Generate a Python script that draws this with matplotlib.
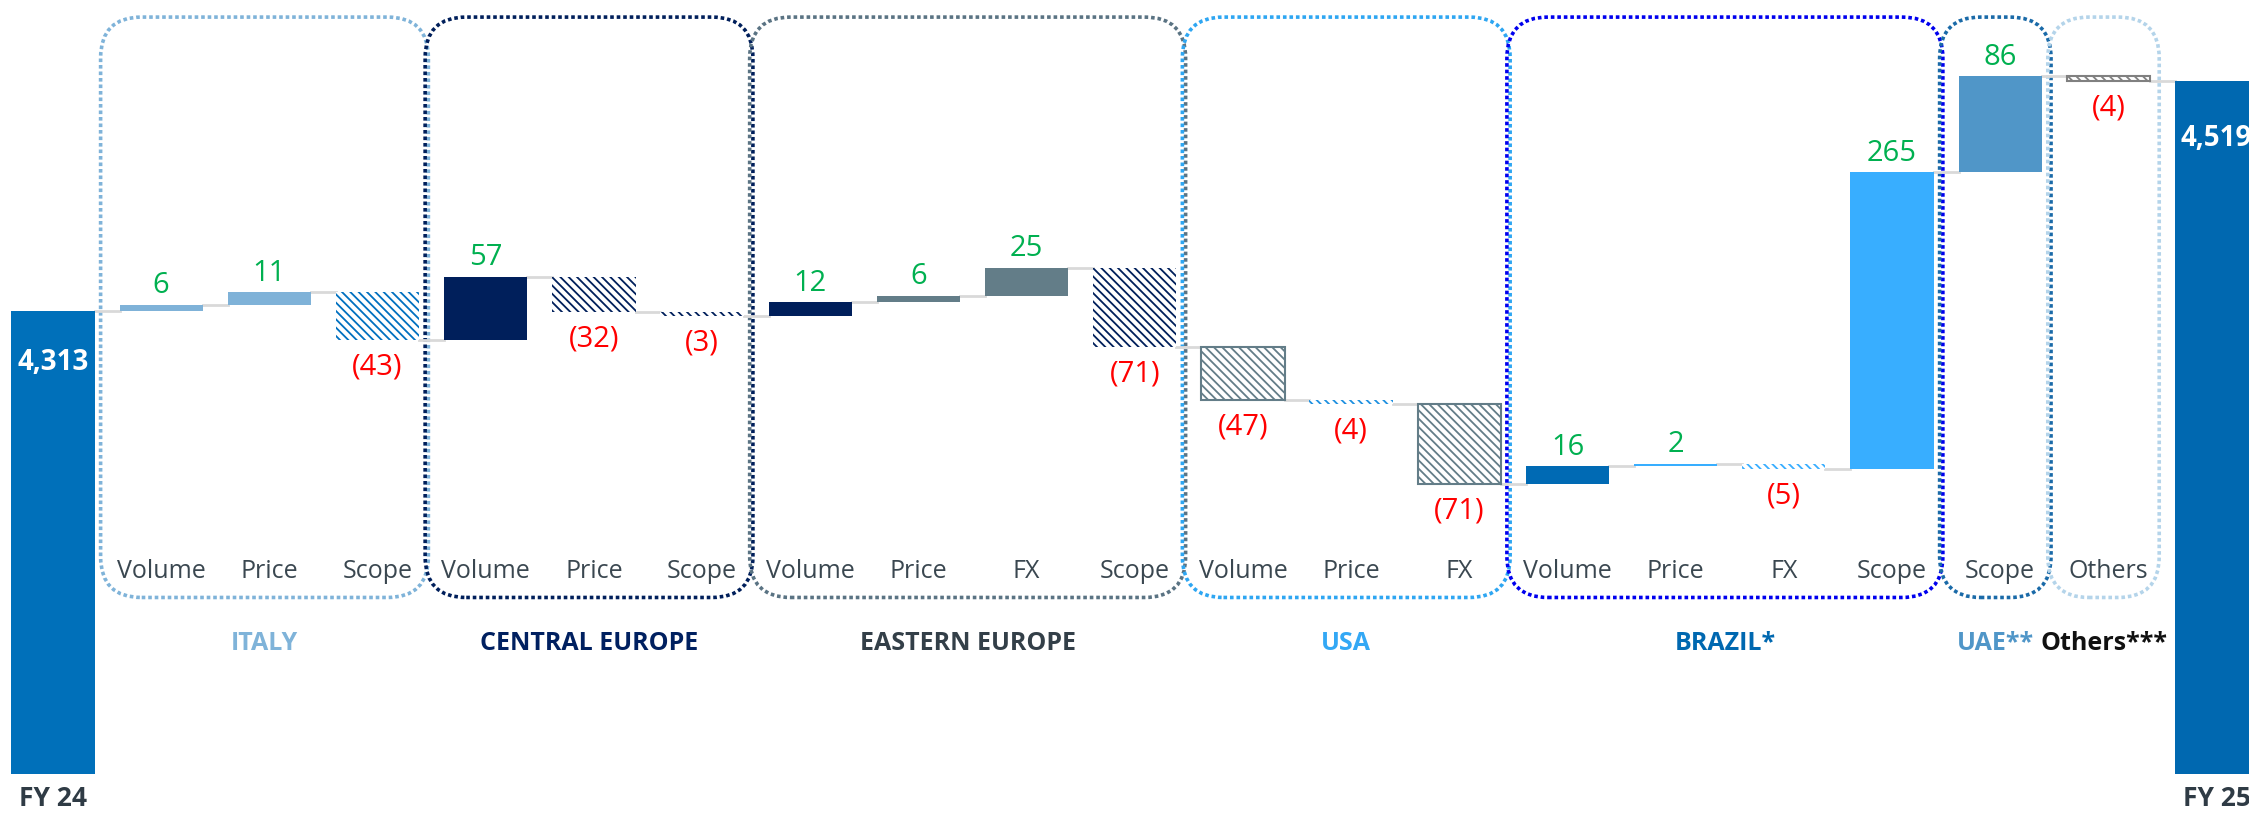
import matplotlib.pyplot as plt
import matplotlib.transforms as mtransforms
from matplotlib.patches import FancyBboxPatch

plt.rcParams['font.family'] = ['Open Sans', 'DejaVu Sans']
plt.rcParams['hatch.linewidth'] = 1.3

# --- data ---
start_label, end_label = "FY 24", "FY 25"
start_value = 4313
end_value = 4519

categories = ["Volume", "Price", "Scope",
              "Volume", "Price", "Scope",
              "Volume", "Price", "FX", "Scope",
              "Volume", "Price", "FX",
              "Volume", "Price", "FX", "Scope",
              "Scope", "Others"]
deltas = [6, 11, -43,
          57, -32, -3,
          12, 6, 25, -71,
          -47, -4, -71,
          16, 2, -5, 265,
          86, -4]
bar_colors = ["#7FB2D8", "#7FB2D8", "#0070C0",
              "#001F5B", "#001F5B", "#001F5B",
              "#001F5B", "#637D88", "#637D88", "#001F5B",
              "#637D88", "#1E90E0", "#637D88",
              "#006AB4", "#38AEFF", "#38AEFF", "#38AEFF",
              "#5096C8", "#808080"]
hatched = [False, False, True,
           False, True, True,
           False, False, False, True,
           True, True, True,
           False, False, True, False,
           False, True]

groups = ["ITALY", "CENTRAL EUROPE", "EASTERN EUROPE", "USA", "BRAZIL*", "UAE**", "Others***"]
group_sizes = [3, 3, 4, 3, 4, 1, 1]
group_box_colors = ["#7FB3D9", "#001F5B", "#5A7383", "#2EA6F2", "#0000EE", "#1A6AA8", "#B4D4EA"]
group_text_colors = ["#7FB3D9", "#002060", "#333F48", "#33A8F5", "#0068B0", "#5096C8", "#111111"]

axis_base = 3900
total_color_start = "#0070BA"
total_color_end = "#0068B0"
outlined_hatch = {"#637D88", "#808080"}   # only these hatched bars get a border

# --- figure ---
fig = plt.figure(figsize=(22.49, 8.14), dpi=100)
ax = fig.add_axes([0, 0, 1, 1])
ax.set_xlim(-0.49, 20.30)
ax.set_ylim(3864, 4591)
ax.axis('off')
trans = mtransforms.blended_transform_factory(ax.transData, ax.transAxes)

width = 0.77
n = len(deltas)
end_x = n + 1

# totals
ax.bar(0, start_value - axis_base, bottom=axis_base, width=width, color=total_color_start, zorder=3)
ax.bar(end_x, end_value - axis_base, bottom=axis_base, width=width, color=total_color_end, zorder=3)
ax.annotate(f"{start_value:,}", (0, start_value), xytext=(0, -37), textcoords='offset points',
            ha='center', va='center', color='white', fontsize=20, fontweight='bold', zorder=5)
ax.annotate(f"{end_value:,}", (end_x, end_value), xytext=(0, -42), textcoords='offset points',
            ha='center', va='center', color='white', fontsize=20, fontweight='bold', zorder=5)

# deltas
running = start_value
for i, (d, c, h) in enumerate(zip(deltas, bar_colors, hatched)):
    x = i + 1
    lo, hi = min(running, running + d), max(running, running + d)
    # connector from previous bar
    ax.plot([x - 1 + width / 2, x - width / 2], [running, running], color="#D9D9D9", lw=2, zorder=2)
    if h:
        lw = 1.5 if c in outlined_hatch else 0
        ax.bar(x, hi - lo, bottom=lo, width=width, facecolor='white', edgecolor=c,
               hatch='\\\\\\\\', linewidth=lw, zorder=3)
    else:
        ax.bar(x, hi - lo, bottom=lo, width=width, color=c, zorder=3)
    if d >= 0:
        ax.annotate(f"{d}", (x, hi), xytext=(0, 8), textcoords='offset points',
                    ha='center', va='baseline', color="#00B050", fontsize=21, zorder=5)
    else:
        ax.annotate(f"({-d})", (x, lo), xytext=(0, -9), textcoords='offset points',
                    ha='center', va='top', color="#FF0000", fontsize=21, zorder=5)
    running += d
    ax.text(x, 0.298, categories[i], transform=trans, ha='center', va='center',
            fontsize=18, color="#3A4750", zorder=5)
ax.plot([n + width / 2, end_x - width / 2], [running, running], color="#D9D9D9", lw=2, zorder=2)

# group boxes
first = 1
for g, size, bc, tc in zip(groups, group_sizes, group_box_colors, group_text_colors):
    last = first + size - 1
    x0, x1 = first - 0.56, last + 0.47
    box = FancyBboxPatch((x0, 0.266), x1 - x0, 0.979 - 0.266,
                         boxstyle="round,pad=0,rounding_size=0.38", mutation_aspect=0.1327,
                         transform=trans, facecolor='none', edgecolor=bc,
                         linewidth=2.6, linestyle=(0, (1, 0.8)), zorder=1)
    ax.add_patch(box)
    ax.text((x0 + x1) / 2, 0.2095, g, transform=trans, ha='center', va='center',
            fontsize=18, fontweight='bold', color=tc)
    first = last + 1

ax.text(0, 0.019, start_label, transform=trans, ha='center', va='center',
        fontsize=19, fontweight='bold', color="#2F3B45")
ax.text(end_x, 0.019, end_label, transform=trans, ha='center', va='center',
        fontsize=19, fontweight='bold', color="#2F3B45")

fig.savefig("out.png", dpi=100)
